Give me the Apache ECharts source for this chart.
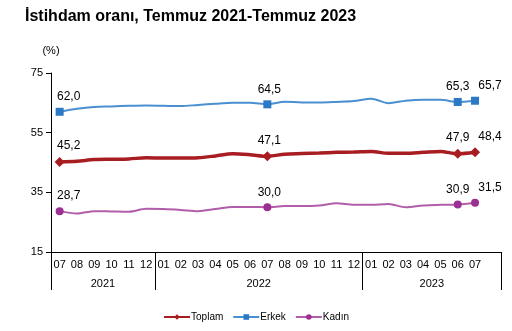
<!DOCTYPE html>
<html><head><meta charset="utf-8">
<script src="https://cdn.jsdelivr.net/npm/echarts@6/dist/echarts.min.js"></script>
<style>html,body{margin:0;padding:0;background:#fff}#c{width:512px;height:331px}</style>
</head><body><div id="c"></div>
<script>
const months = ['07','08','09','10','11','12','01','02','03','04','05','06','07','08','09','10','11','12','01','02','03','04','05','06','07'];
const years = ['2021','2022','2023'];
const yearStart = [0, 6, 18];   // index of first month of each year
const toplam = [45.2,45.4,46.0,46.1,46.2,46.6,46.5,46.5,46.6,47.2,47.9,47.6,47.1,47.8,48.0,48.2,48.4,48.5,48.7,48.1,48.1,48.4,48.7,47.9,48.4];
const erkek  = [62.0,63.0,63.6,63.8,64.0,64.1,64.0,63.9,64.3,64.7,65.0,65.0,64.5,65.4,65.1,65.1,65.3,65.6,66.4,64.9,65.7,66.0,66.0,65.3,65.7];
const kadin  = [28.7,27.9,28.7,28.6,28.5,29.5,29.4,29.1,28.7,29.4,30.1,30.1,30.0,30.4,30.4,30.6,31.3,30.8,30.8,31.1,30.0,30.6,30.8,30.9,31.5];
const marked = [0, 12, 23, 24];

const F = 'Liberation Sans, Arial, sans-serif';
const fmt = v => v.toFixed(1).replace('.', ',');
const offsets = {0:[9,0], 12:[2,0], 23:[0,0], 24:[15,0]};

function build(vals, sym, size) {
  return vals.map((v, i) => marked.includes(i)
    ? {value: v, symbol: sym, symbolSize: size,
       label: {show: true, position: 'top', distance: 5, offset: offsets[i],
               formatter: p => fmt(p.value), color: '#000', fontSize: 12, fontFamily: F}}
    : {value: v, symbol: 'none'});
}

const monthCats = months.concat(['']);
const nSlots = monthCats.length;
const yearCats = Array(nSlots + 1).fill('');
const yearTicks = yearStart.concat([nSlots]);
years.forEach((y, k) => {
  const a = yearStart[k], b = yearTicks[k + 1];
  yearCats[Math.round((a + b) / 2)] = y;
});

const chart = echarts.init(document.getElementById('c'), null, {renderer: 'canvas'});
chart.setOption({
  animation: false,
  backgroundColor: '#fff',
  title: {text: 'İstihdam oranı, Temmuz 2021-Temmuz 2023', left: 20, top: 4,
    textStyle: {fontFamily: F, fontSize: 16, fontWeight: 'bold', color: '#000'}},
  grid: {left: 51, right: 11, top: 73, bottom: 79, containLabel: false},
  legend: {bottom: 4, left: 'center', itemWidth: 26, itemHeight: 7, itemGap: 9,
    textStyle: {fontFamily: F, fontSize: 10, color: '#000', padding: [0, 0, 0, -4]},
    data: ['Toplam', 'Erkek', 'Kadın']},
  xAxis: [
    {type: 'category', data: monthCats, boundaryGap: true, position: 'bottom',
     axisLine: {show: true, lineStyle: {color: '#000', width: 1}},
     axisTick: {show: false},
     axisLabel: {interval: 0, margin: 7, fontFamily: F, fontSize: 11, color: '#000'}},
    {type: 'category', data: yearCats, boundaryGap: false, position: 'bottom',
     axisLine: {show: false},
     axisTick: {show: true, length: 38, interval: i => yearTicks.includes(i), lineStyle: {color: '#000'}},
     axisLabel: {interval: 0, margin: 26, fontFamily: F, fontSize: 11, color: '#000'},
     splitLine: {show: false}}
  ],
  yAxis: {type: 'value', min: 15, max: 75, interval: 20, name: '(%)',
    nameLocation: 'end', nameGap: 17,
    nameTextStyle: {fontFamily: F, fontSize: 11, color: '#000', align: 'center'},
    axisLine: {show: true, lineStyle: {color: '#000'}},
    axisTick: {show: true, length: 5, lineStyle: {color: '#000'}},
    axisLabel: {fontFamily: F, fontSize: 11, color: '#000', margin: 8},
    splitLine: {show: false}},
  series: [
    {name: 'Toplam', type: 'line', smooth: 0.3, symbol: 'diamond', symbolSize: 10,
     showAllSymbol: true, data: build(toplam, 'diamond', 10),
     lineStyle: {color: '#A81D22', width: 3.5}, itemStyle: {color: '#A81D22'}, z: 3},
    {name: 'Erkek', type: 'line', smooth: 0.3, symbol: 'rect', symbolSize: 8,
     showAllSymbol: true, data: build(erkek, 'rect', 8),
     lineStyle: {color: '#4A8FD0', width: 2}, itemStyle: {color: '#2A78C6'}, z: 2},
    {name: 'Kadın', type: 'line', smooth: 0.3, symbol: 'circle', symbolSize: 8,
     showAllSymbol: true, data: build(kadin, 'circle', 8),
     lineStyle: {color: '#B25DAA', width: 2}, itemStyle: {color: '#9C2F92'}, z: 2}
  ]
});
</script></body></html>
